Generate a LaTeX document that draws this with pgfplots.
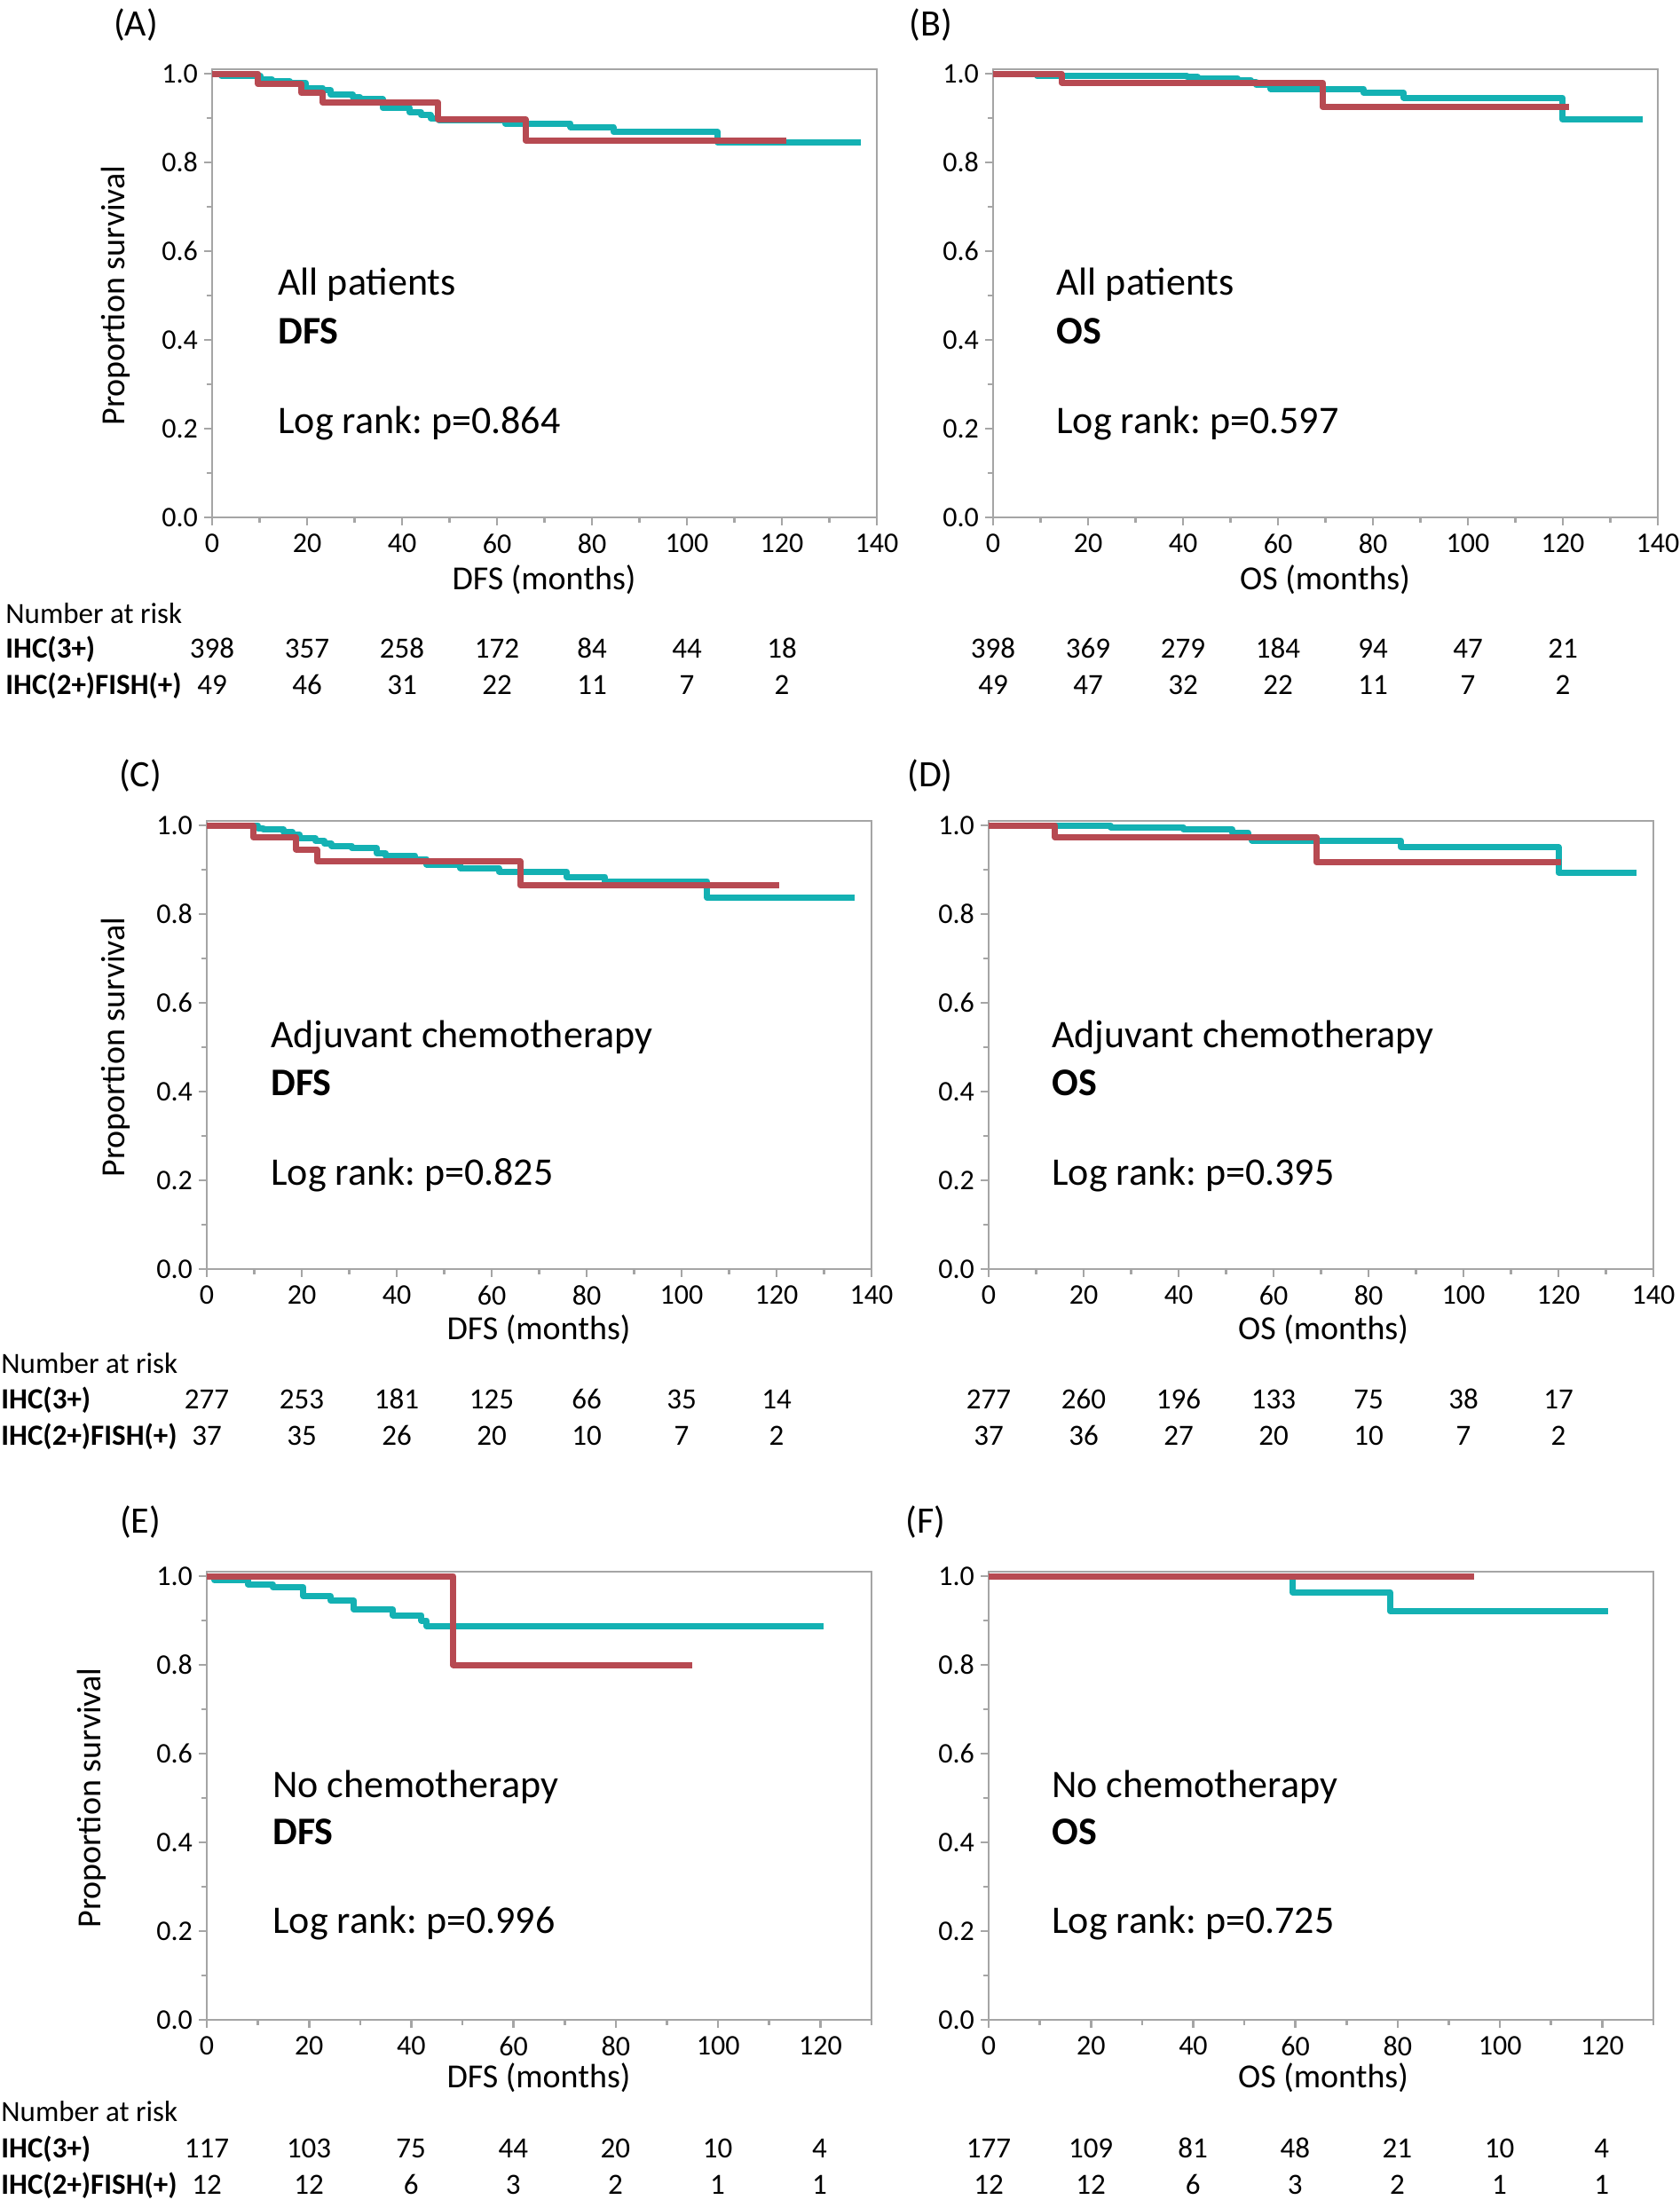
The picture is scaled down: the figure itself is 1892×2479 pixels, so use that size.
\documentclass[border=0pt]{standalone}
\usepackage{fontspec}
\setmainfont{Carlito}
\usepackage{pgfplots}
\pgfplotsset{compat=1.18}
\frenchspacing
\definecolor{kmcyan}{RGB}{20,177,179}
\definecolor{kmred}{RGB}{183,74,82}
\definecolor{axgray}{RGB}{165,165,165}
\newcommand\fannot{\fontsize{22}{26}\selectfont}
\newcommand\flabel{\fontsize{19}{23}\selectfont}
\newcommand\ftick{\fontsize{16}{19}\selectfont}
\newcommand\frisk{\fontsize{16.5}{20}\selectfont}
\newcommand\fpanel{\fontsize{21}{25}\selectfont}
\pgfplotsset{km/.style={
  scale only axis, anchor=south west,
  width=374.5pt, height=252.5pt,
  xmin=0, xmax=140, ymin=0, ymax=1.01,
  axis line style={axgray, line width=1.3pt},
  tick style={axgray, line width=1.3pt},
  tick align=outside,
  xtick pos=left, ytick pos=left,
  xtick={0,20,40,60,80,100,120,140},
  ytick={0,0.2,0.4,0.6,0.8,1.0},
  minor x tick num=1, minor y tick num=1,
  major tick length=4.5pt, minor tick length=3pt,
  yticklabel style={/pgf/number format/fixed, /pgf/number format/fixed zerofill, /pgf/number format/precision=1},
  xticklabel style={yshift=-1.5pt},
  /pgf/number format/assume math mode=true,
  tick label style={font=\ftick, text=black},
  every axis plot/.append style={const plot, line width=3.5pt, line join=round, no marks},
},
kmshort/.style={km, xmax=130, xtick={0,20,40,60,80,100,120}, minor xtick={10,30,50,70,90,110,130}}
}
\begin{document}
\begin{tikzpicture}[x=0.5pt,y=-0.5pt]
\path[use as bounding box] (0,0) rectangle (1892,2479);
% ---------------- (A)
\begin{axis}[km, at={(119.5pt,-291.5pt)}]
\addplot[kmcyan] coordinates {(0,1)(2,0.995)(10.2,0.987)(12.6,0.983)(16.4,0.98)(19.7,0.968)(23.3,0.963)(25,0.953)(29.7,0.947)(31.2,0.943)(35.9,0.923)(41.6,0.913)(44,0.907)(46,0.9)(47.8,0.895)(61.7,0.888)(75.5,0.88)(84.5,0.869)(106.5,0.845)(136.7,0.845)};
\addplot[kmred] coordinates {(0,1)(9.7,0.977)(18.8,0.957)(23.3,0.935)(47.6,0.897)(66,0.85)(121,0.85)};
\end{axis}
% ---------------- (B)
\begin{axis}[km, at={(559.5pt,-291.5pt)}]
\addplot[kmcyan] coordinates {(0,1)(9.3,0.995)(40.8,0.993)(43.1,0.99)(51.5,0.986)(54.3,0.981)(55.4,0.975)(58.5,0.966)(78,0.957)(86.5,0.946)(119.9,0.897)(136.9,0.897)};
\addplot[kmred] coordinates {(0,1)(14.4,0.98)(69.4,0.925)(121.3,0.925)};
\end{axis}
% ---------------- (C)
\begin{axis}[km, at={(116.5pt,-715pt)}]
\addplot[kmcyan] coordinates {(0,1)(10.8,0.994)(11.9,0.991)(16.2,0.985)(18.1,0.979)(19.6,0.971)(22.9,0.965)(24.8,0.959)(26.2,0.954)(30.5,0.949)(35.8,0.937)(37.7,0.932)(43.9,0.924)(46.3,0.912)(53.4,0.904)(61.5,0.896)(75.8,0.884)(83.9,0.874)(105.4,0.837)(136.4,0.837)};
\addplot[kmred] coordinates {(0,1)(9.8,0.973)(18.8,0.946)(23.2,0.919)(66,0.865)(120.6,0.865)};
\end{axis}
% ---------------- (D)
\begin{axis}[km, at={(557pt,-715pt)}]
\addplot[kmcyan] coordinates {(0,1)(25.7,0.996)(41,0.991)(51.3,0.984)(54.6,0.974)(55.5,0.966)(86.8,0.951)(120,0.894)(136.5,0.894)};
\addplot[kmred] coordinates {(0,1)(14,0.973)(69,0.917)(120.6,0.917)};
\end{axis}
% ---------------- (E)
\begin{axis}[kmshort, at={(116.5pt,-1138pt)}]
\addplot[kmcyan] coordinates {(0,1)(1.5,0.991)(8,0.982)(12.9,0.975)(18.9,0.955)(24.2,0.945)(28.8,0.925)(36.4,0.912)(42,0.9)(43,0.887)(120.6,0.887)};
\addplot[kmred] coordinates {(0,1)(48.2,0.8)(94.9,0.8)};
\end{axis}
% ---------------- (F)
\begin{axis}[kmshort, at={(557pt,-1138pt)}]
\addplot[kmcyan] coordinates {(0,1)(59.4,0.964)(78.5,0.921)(121.2,0.921)};
\addplot[kmred] coordinates {(0,1)(94.9,1)};
\end{axis}
% ---------------- panel letters
\node[font=\fpanel] at (153,28) {(A)};
\node[font=\fpanel] at (1049,28) {(B)};
\node[font=\fpanel] at (158,874) {(C)};
\node[font=\fpanel] at (1048,874) {(D)};
\node[font=\fpanel] at (158,1715) {(E)};
\node[font=\fpanel] at (1043,1715) {(F)};
% ---------------- axis labels
\node[font=\flabel] at (613,653) {DFS (months)};
\node[font=\flabel] at (1493,653) {OS (months)};
\node[font=\flabel] at (607,1498) {DFS (months)};
\node[font=\flabel] at (1491,1498) {OS (months)};
\node[font=\flabel] at (607,2341) {DFS (months)};
\node[font=\flabel] at (1491,2341) {OS (months)};
\node[font=\flabel, rotate=90] at (130,333) {Proportion survival};
\node[font=\flabel, rotate=90] at (130,1180) {Proportion survival};
\node[font=\flabel, rotate=90] at (103,2026) {Proportion survival};
% ---------------- annotations
\begin{scope}[every node/.style={font=\fannot, anchor=base west, inner sep=0pt}]
\node at (313,332) {All patients};
\node at (313,387) {\textbf{DFS}};
\node at (313,488) {Log rank: p=0.864};
\node at (1190,332) {All patients};
\node at (1190,387) {\textbf{OS}};
\node at (1190,488) {Log rank: p=0.597};
\node at (305,1180) {Adjuvant chemotherapy};
\node at (305,1234) {\textbf{DFS}};
\node at (305,1335) {Log rank: p=0.825};
\node at (1185,1180) {Adjuvant chemotherapy};
\node at (1185,1234) {\textbf{OS}};
\node at (1185,1335) {Log rank: p=0.395};
\node at (307,2025) {No chemotherapy};
\node at (307,2078) {\textbf{DFS}};
\node at (307,2178) {Log rank: p=0.996};
\node at (1185,2025) {No chemotherapy};
\node at (1185,2078) {\textbf{OS}};
\node at (1185,2178) {Log rank: p=0.725};
\end{scope}
% ---------------- number at risk
\begin{scope}[every node/.style={font=\frisk, inner sep=0pt}]
\node[anchor=base west] at (6,702) {Number at risk};
\node[anchor=base west] at (6,741) {\textbf{IHC(3+)}};
\node[anchor=base west] at (6,782) {\textbf{IHC(2+)FISH(+)}};
\foreach \n [count=\i from 0] in {398,357,258,172,84,44,18} \node[anchor=base] at ({239+107*\i},741) {\n};
\foreach \n [count=\i from 0] in {49,46,31,22,11,7,2} \node[anchor=base] at ({239+107*\i},782) {\n};
\foreach \n [count=\i from 0] in {398,369,279,184,94,47,21} \node[anchor=base] at ({1119+107*\i},741) {\n};
\foreach \n [count=\i from 0] in {49,47,32,22,11,7,2} \node[anchor=base] at ({1119+107*\i},782) {\n};
\node[anchor=base west] at (1,1547) {Number at risk};
\node[anchor=base west] at (1,1587) {\textbf{IHC(3+)}};
\node[anchor=base west] at (1,1628) {\textbf{IHC(2+)FISH(+)}};
\foreach \n [count=\i from 0] in {277,253,181,125,66,35,14} \node[anchor=base] at ({233+107*\i},1587) {\n};
\foreach \n [count=\i from 0] in {37,35,26,20,10,7,2} \node[anchor=base] at ({233+107*\i},1628) {\n};
\foreach \n [count=\i from 0] in {277,260,196,133,75,38,17} \node[anchor=base] at ({1114+107*\i},1587) {\n};
\foreach \n [count=\i from 0] in {37,36,27,20,10,7,2} \node[anchor=base] at ({1114+107*\i},1628) {\n};
\node[anchor=base west] at (1,2390) {Number at risk};
\node[anchor=base west] at (1,2431) {\textbf{IHC(3+)}};
\node[anchor=base west] at (1,2472) {\textbf{IHC(2+)FISH(+)}};
\foreach \n [count=\i from 0] in {117,103,75,44,20,10,4} \node[anchor=base] at ({233+115.1*\i},2431) {\n};
\foreach \n [count=\i from 0] in {12,12,6,3,2,1,1} \node[anchor=base] at ({233+115.1*\i},2472) {\n};
\foreach \n [count=\i from 0] in {177,109,81,48,21,10,4} \node[anchor=base] at ({1114+115.1*\i},2431) {\n};
\foreach \n [count=\i from 0] in {12,12,6,3,2,1,1} \node[anchor=base] at ({1114+115.1*\i},2472) {\n};
\end{scope}
\end{tikzpicture}
\end{document}
